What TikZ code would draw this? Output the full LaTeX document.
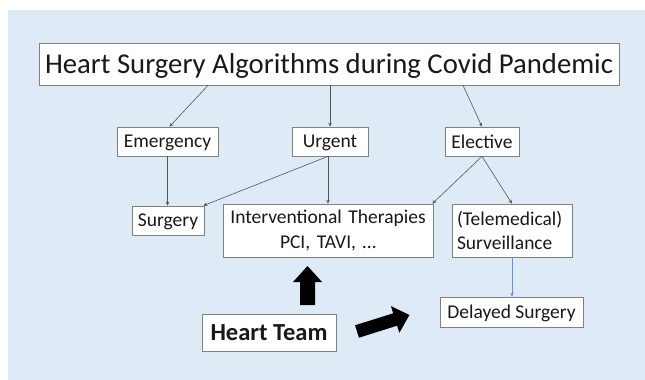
\documentclass[tikz,border=0pt]{standalone}
\usepackage{fontspec}
\setmainfont{Carlito}
\usetikzlibrary{arrows.meta}
\definecolor{bgblue}{RGB}{222,235,247}
\definecolor{boxline}{RGB}{128,128,128}
\definecolor{connc}{RGB}{85,85,85}
\definecolor{blueconn}{RGB}{110,145,200}
\definecolor{txt}{RGB}{25,25,25}
\begin{document}
\begin{tikzpicture}[x=1pt,y=-1pt,
  box/.style={draw=boxline, line width=0.7pt, fill=white, inner sep=0pt, text=txt,
    font=\fontsize{19.5}{24.5}\selectfont},
  onebox/.style={box, text depth=-1pt},
  conn/.style={draw=connc, line width=0.6pt, -{Stealth[length=4pt,width=3.5pt]}},
  bconn/.style={draw=blueconn, line width=0.6pt, -{Stealth[length=4pt,width=3.5pt]}},
  blockarrow/.style={fill=black}
]
\useasboundingbox (0,0) rectangle (645,380);
\fill[bgblue] (8,10) rectangle (650,385);

\node[onebox, minimum width=580pt, minimum height=42pt, font=\fontsize{28.7}{34}\selectfont, text depth=0pt] (title) at (329,64) {Heart Surgery Algorithms during Covid Pandemic};

\node[onebox, minimum width=101pt, minimum height=29pt] (emerg) at (167.5,141.5) {Emergency};
\node[onebox, minimum width=76pt, minimum height=29pt] (urgent) at (330,141.5) {Urgent};
\node[onebox, minimum width=74pt, minimum height=29pt] (elective) at (482,141.5) {Elective};

\node[onebox, minimum width=72pt, minimum height=29pt] (surgery) at (168,220.5) {Surgery};
\node[box, minimum width=210pt, minimum height=53pt, text width=200pt, align=center] (interv) at (328,230.5) {Interventional Therapies\\PCI, TAVI, …};
\node[box, minimum width=120pt, minimum height=53pt, text width=110pt, align=left] (surv) at (512,230.5) {(Telemedical)\\Surveillance};

\node[onebox, minimum width=143pt, minimum height=30pt] (delayed) at (511.5,312) {Delayed Surgery};
\node[onebox, minimum width=134pt, minimum height=37pt, font=\fontsize{24.5}{28}\selectfont\bfseries] (team) at (269,332.5) {Heart Team};

\draw[conn] ([xshift=-121pt]title.south) -- ([xshift=2pt]emerg.north);
\draw[conn] (urgent.north |- title.south) -- (urgent.north);
\draw[conn] ([xshift=134pt]title.south) -- (elective.north);

\draw[conn] (emerg.south) -- (emerg.south |- surgery.north);
\draw[conn] ([xshift=-2pt]urgent.south) -- ([xshift=-1pt]surgery.north east);
\draw[conn] ([xshift=-2pt]urgent.south) -- ([xshift=-2pt]urgent.south |- interv.north);
\draw[conn] (elective.south) -- ([xshift=-1pt]interv.north east);
\draw[conn] (elective.south) -- (surv.north);
\draw[bconn] (surv.south) -- (surv.south |- delayed.north);

% block arrows
\fill[blockarrow] (300,305) -- (300,282) -- (293,282) -- (307.5,266) -- (322,282) -- (315,282) -- (315,305) -- cycle;
\begin{scope}[shift={(357,331.5)}, rotate=17.5]
  \fill[blockarrow] (0,-6.5) -- (40,-6.5) -- (40,-14) -- (55,0) -- (40,14) -- (40,6.5) -- (0,6.5) -- cycle;
\end{scope}
\end{tikzpicture}
\end{document}
